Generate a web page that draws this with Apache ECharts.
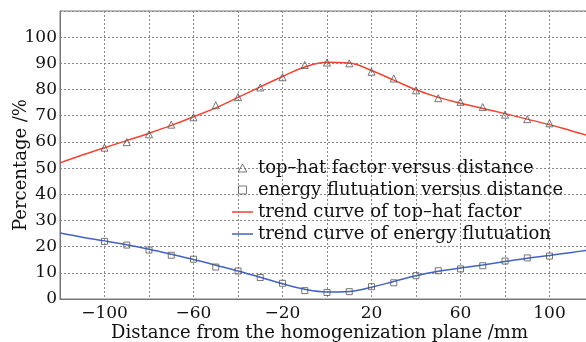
<!DOCTYPE html>
<html>
<head>
<meta charset="utf-8">
<script src="https://cdn.jsdelivr.net/npm/echarts@6/dist/echarts.min.js"></script>
<style>
html,body{margin:0;padding:0;background:#fff;}
#chart{width:586px;height:342px;}
</style>
</head>
<body>
<div id="chart"></div>
<script>
// measured points
var pointX = [-100,-90,-80,-70,-60,-50,-40,-30,-20,-10,0,10,20,30,40,50,60,70,80,90,100];
var topHat = [57.8,59.9,62.9,66.6,69.4,74.0,77.1,80.8,84.7,89.4,90.3,90.0,86.8,84.2,79.7,76.7,75.3,73.3,70.4,68.7,67.1];
var energy = [22.0,20.6,18.7,16.7,15.2,12.2,10.7,8.2,6.0,3.2,2.5,2.8,4.7,6.2,8.9,10.8,11.5,12.7,14.5,15.7,16.4];
// trend curves
var curveX = [-120,-110,-100,-90,-80,-70,-60,-50,-40,-30,-20,-10,0,10,20,30,40,50,60,70,80,90,100,110,120];
var topHatTrend = [52.0,55.0,57.8,60.5,63.3,66.3,69.6,73.0,77.0,81.0,85.0,88.6,90.4,90.1,87.3,83.6,79.9,77.0,74.8,72.8,70.8,68.7,66.6,64.2,61.8];
var energyTrend = [25.2,23.6,22.2,20.7,19.0,17.1,15.1,12.9,10.7,8.3,5.8,3.7,2.7,2.9,4.5,6.7,8.9,10.6,11.8,13.0,14.3,15.6,16.6,17.8,19.0];
var xLabels = [-100,-60,-20,20,60,100];
var yLabels = [0,10,20,30,40,50,60,70,80,90,100];
var seriesNames = ['top\u2013hat factor versus distance','energy flutuation versus distance','trend curve of top\u2013hat factor','trend curve of energy flutuation'];
var xTitle = 'Distance from the homogenization plane /mm';
var yTitle = 'Percentage /%';

function pairs(xs, ys){ return xs.map(function(x,i){ return [x, ys[i]]; }); }

var FONT = 'DejaVu Serif';
var RED = '#f04535', BLUE = '#4262c4', MARK = '#555';
var lineIcon = 'path://M0,0 L28,0 L28,2 L0,2 Z';
var chart = echarts.init(document.getElementById('chart'), null, {renderer:'canvas'});
chart.setOption({
  animation: false,
  backgroundColor: '#fff',
  textStyle: {fontFamily: FONT},
  grid: {left: 60, right: -8, top: 11, bottom: 43, outerBoundsMode: 'none', containLabel: false,
    show: true, borderColor: '#777', borderWidth: 1, backgroundColor: 'transparent'},
  legend: {
    orient: 'vertical', left: 227, top: 154, itemWidth: 21, itemHeight: 8, itemGap: 4,
    symbolKeepAspect: true,
    textStyle: {fontFamily: FONT, fontSize: 18, color: '#111'},
    data: [
      {name: seriesNames[0], icon: 'path://M0,10 L5.5,0 L11,10 Z', itemStyle: {color: 'transparent', borderColor: MARK, borderWidth: 1}},
      {name: seriesNames[1], icon: 'path://M0,0 L10,0 L10,10 L0,10 Z', itemStyle: {color: 'transparent', borderColor: MARK, borderWidth: 1}},
      {name: seriesNames[2], icon: lineIcon, itemStyle: {color: RED, borderWidth: 0}},
      {name: seriesNames[3], icon: lineIcon, itemStyle: {color: BLUE, borderWidth: 0}}
    ]
  },
  xAxis: {
    type: 'value', min: -120, max: 120, interval: 20,
    name: xTitle, nameLocation: 'middle', nameGap: 25, nameMoveOverlap: false,
    nameTextStyle: {fontFamily: FONT, fontSize: 18, color: '#111', padding: [0, 15, 0, 0]},
    axisLine: {show: true, onZero: false, lineStyle: {color: '#777'}},
    axisTick: {show: false},
    axisLabel: {fontFamily: FONT, fontSize: 17, color: '#111', margin: 6,
      formatter: function(v){ return xLabels.indexOf(v) >= 0 ? String(v).replace('-', '\u2212') : ''; }},
    splitLine: {show: true, lineStyle: {color: '#888', type: [2, 2], width: 1}}
  },
  yAxis: {
    type: 'value', min: 0, max: 110, interval: 10,
    name: yTitle, nameLocation: 'middle', nameGap: 30, nameMoveOverlap: false,
    nameTextStyle: {fontFamily: FONT, fontSize: 18, color: '#111', padding: [0, 20, 0, 0]},
    axisLine: {show: true, onZero: false, lineStyle: {color: '#777'}},
    axisTick: {show: false},
    axisLabel: {fontFamily: FONT, fontSize: 17, color: '#111', margin: 3,
      formatter: function(v){ return yLabels.indexOf(v) >= 0 ? String(v) : ''; }},
    splitLine: {show: true, lineStyle: {color: '#888', type: [2, 2], width: 1}}
  },
  series: [
    {name: seriesNames[2], type: 'line', data: pairs(curveX, topHatTrend), smooth: 0.4, symbol: 'none',
      lineStyle: {color: RED, width: 1.5}, itemStyle: {color: RED}, z: 2},
    {name: seriesNames[3], type: 'line', data: pairs(curveX, energyTrend), smooth: 0.4, symbol: 'none',
      lineStyle: {color: BLUE, width: 1.5}, itemStyle: {color: BLUE}, z: 2},
    {name: seriesNames[0], type: 'scatter', data: pairs(pointX, topHat), symbol: 'triangle', symbolSize: 7,
      itemStyle: {color: 'transparent', borderColor: MARK, borderWidth: 1}, z: 3},
    {name: seriesNames[1], type: 'scatter', data: pairs(pointX, energy), symbol: 'rect', symbolSize: 6,
      itemStyle: {color: 'transparent', borderColor: MARK, borderWidth: 1}, z: 3}
  ]
});
</script>
</body>
</html>
